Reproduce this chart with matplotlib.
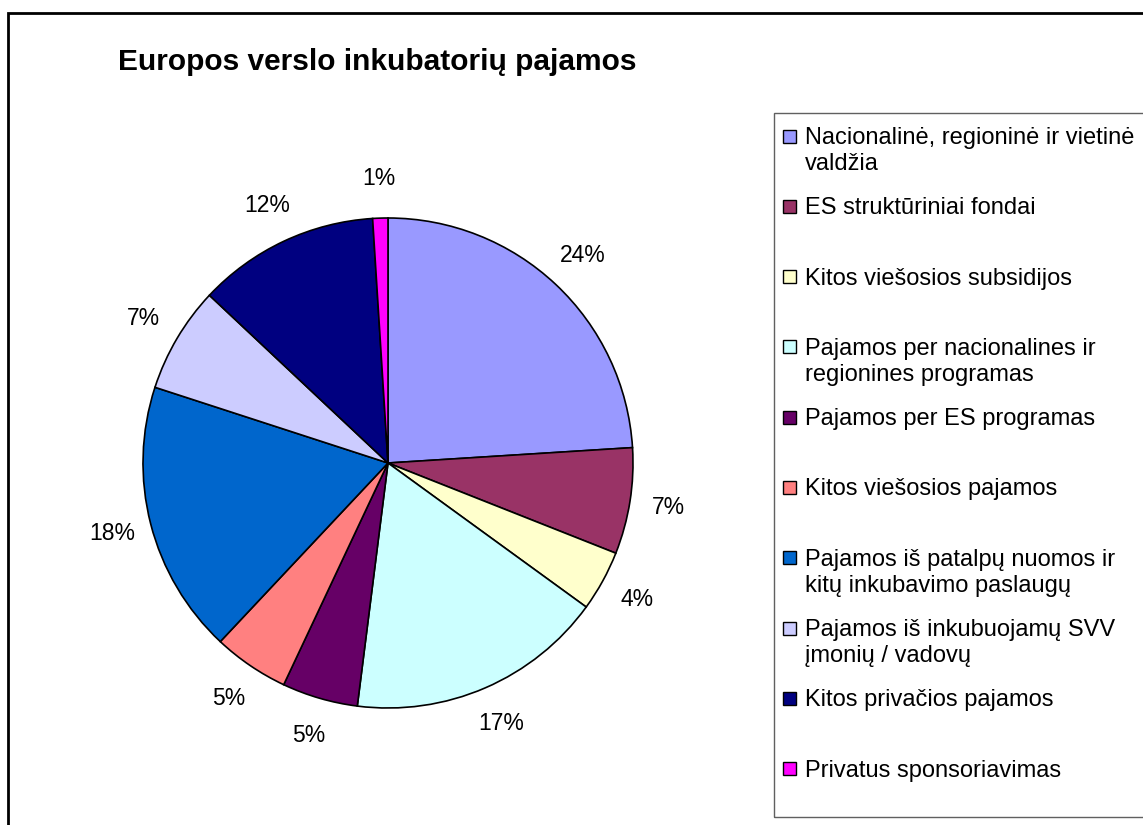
import matplotlib
matplotlib.use("Agg")
import matplotlib.pyplot as plt
from matplotlib.patches import Rectangle

plt.rcParams['font.family'] = ['Liberation Sans', 'DejaVu Sans']

title = 'Europos verslo inkubatorių pajamos'
categories = [
    'Nacionalinė, regioninė ir vietinė\nvaldžia',
    'ES struktūriniai fondai',
    'Kitos viešosios subsidijos',
    'Pajamos per nacionalines ir\nregionines programas',
    'Pajamos per ES programas',
    'Kitos viešosios pajamos',
    'Pajamos iš patalpų nuomos ir\nkitų inkubavimo paslaugų',
    'Pajamos iš inkubuojamų SVV\nįmonių / vadovų',
    'Kitos privačios pajamos',
    'Privatus sponsoriavimas',
]
shares = [24, 7, 4, 17, 5, 5, 18, 7, 12, 1]
colors = ['#9999FF', '#993366', '#FFFFCC', '#CCFFFF', '#660066',
          '#FF8080', '#0066CC', '#CCCCFF', '#000080', '#FF00FF']

W, H = 1143, 825
fig = plt.figure(figsize=(W / 100, H / 100), dpi=100)

# outer frame (cut off at right and bottom like the original)
fig.patches.append(Rectangle((8 / W, -0.1), 1.2, 1 - 13 / H + 0.1,
                             transform=fig.transFigure, fill=False,
                             edgecolor='black', linewidth=2))

fig.text(377 / W, 1 - 62 / H, title, ha='center', va='center',
         fontsize=21.5, fontweight='bold')

# pie, center (388, 463) px, radius 245 px
cx, cy, r = 388, 463, 245
ax = fig.add_axes([(cx - r) / W, (H - cy - r) / H, 2 * r / W, 2 * r / H])
ax.pie(shares, colors=colors, startangle=90, counterclock=False,
       autopct='%1.0f%%', pctdistance=1.16,
       wedgeprops=dict(edgecolor='black', linewidth=1.2),
       textprops=dict(fontsize=16.5, color='black'))
ax.set_xlim(-1, 1)
ax.set_ylim(-1, 1)

# legend box drawn by hand, Excel style evenly spaced entries
fig.patches.append(Rectangle((774 / W, 1 - 817 / H), 0.5, (817 - 113) / H,
                             transform=fig.transFigure, fill=False,
                             edgecolor='#606060', linewidth=1))
y0, step = 136, 70.3
for i, (lab, col) in enumerate(zip(categories, colors)):
    y = y0 + i * step
    fig.patches.append(Rectangle((783 / W, 1 - (y + 6.5) / H), 13 / W, 13 / H,
                                 transform=fig.transFigure, facecolor=col,
                                 edgecolor='black', linewidth=1))
    fig.text(805 / W, 1 - (y - 9) / H, lab, ha='left', va='top',
             fontsize=17, linespacing=1.23)

fig.savefig('out.png', dpi=100, facecolor='white')
